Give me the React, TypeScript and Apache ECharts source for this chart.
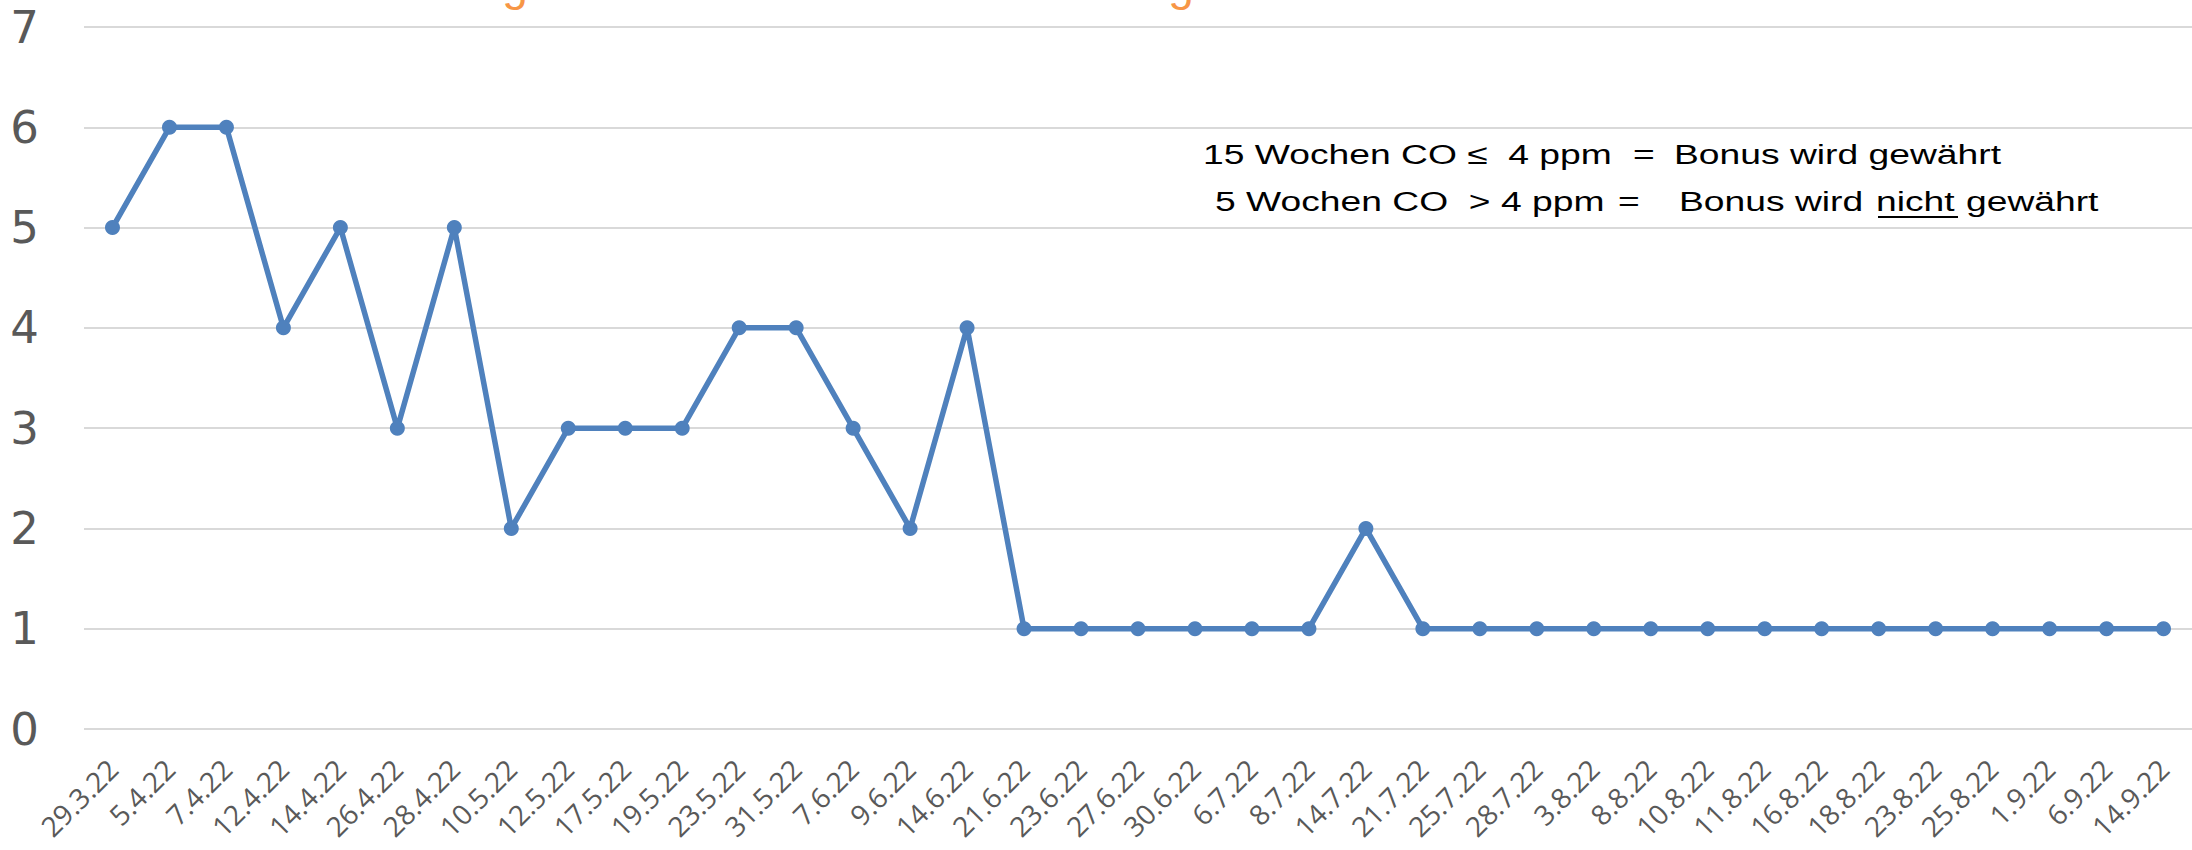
import React, { useEffect, useRef } from "react";
import * as echarts from "echarts";

const categories = [
  "29.3.22", "5.4.22", "7.4.22", "12.4.22", "14.4.22", "26.4.22", "28.4.22",
  "10.5.22", "12.5.22", "17.5.22", "19.5.22", "23.5.22", "31.5.22", "7.6.22",
  "9.6.22", "14.6.22", "21.6.22", "23.6.22", "27.6.22", "30.6.22", "6.7.22",
  "8.7.22", "14.7.22", "21.7.22", "25.7.22", "28.7.22", "3.8.22", "8.8.22",
  "10.8.22", "11.8.22", "16.8.22", "18.8.22", "23.8.22", "25.8.22", "1.9.22",
  "6.9.22", "14.9.22",
];

const coValues = [
  5, 6, 6, 4, 5, 3, 5, 2, 3, 3, 3, 4, 4, 3, 2, 4,
  1, 1, 1, 1, 1, 1, 2,
  1, 1, 1, 1, 1, 1, 1, 1, 1, 1, 1, 1, 1, 1,
];

const yMin = 0;
const yMax = 7;
const yInterval = 1;

const noteLine1Left = "15 Wochen CO \u2264  4 ppm";
const noteLine1Eq = "=";
const noteLine1Right = "Bonus wird gew\u00e4hrt";
const noteLine2Left = "5 Wochen CO  > 4 ppm";
const noteLine2Eq = "=";
const noteLine2A = "Bonus wird";
const noteLine2B = "nicht";
const noteLine2C = "gew\u00e4hrt";

// visible descenders of the cut-off title
const titleFragments = ["g", "g"];

export default function App() {
  const ref = useRef<HTMLDivElement>(null);

  useEffect(() => {
    if (!ref.current) return;
    const chart = echarts.init(ref.current, null, { renderer: "svg" });
    const noteFont = {
      fontFamily: "Liberation Sans, Arial, sans-serif",
      fontSize: 28,
      fill: "#000000",
      verticalAlign: "middle" as const,
    };
    const sx = 1.33;
    const titleFont = {
      fontFamily: "Liberation Sans, Arial, sans-serif",
      fontSize: 46,
      fill: "#f79646",
      align: "center" as const,
      verticalAlign: "middle" as const,
    };
    chart.setOption({
      animation: false,
      backgroundColor: "#ffffff",
      grid: { left: 84, right: 0, top: 27, bottom: 121, containLabel: false },
      xAxis: {
        type: "category",
        data: categories,
        boundaryGap: true,
        axisLine: { show: false },
        axisTick: { show: false },
        axisLabel: {
          interval: 0,
          rotate: 45,
          margin: 35,
          color: "#595959",
          fontSize: 28,
          fontFamily: "Open Sans, sans-serif",
        },
        splitLine: { show: false },
      },
      yAxis: {
        type: "value",
        min: yMin,
        max: yMax,
        interval: yInterval,
        axisLine: { show: false },
        axisTick: { show: false },
        axisLabel: {
          margin: 45,
          color: "#595959",
          fontSize: 45,
          fontFamily: "DejaVu Sans, sans-serif",
        },
        splitLine: { show: true, lineStyle: { color: "#d9d9d9", width: 2 } },
      },
      series: [
        {
          type: "line",
          data: coValues,
          symbol: "circle",
          symbolSize: 15,
          lineStyle: { color: "#4f81bd", width: 5.5 },
          itemStyle: { color: "#4f81bd" },
          z: 3,
        },
      ],
      graphic: [
        { type: "text", x: 515, y: -16, style: { ...titleFont, text: titleFragments[0] } },
        { type: "text", x: 1181, y: -16, style: { ...titleFont, text: titleFragments[1] } },
        { type: "text", x: 1203, y: 154, scaleX: sx, style: { ...noteFont, text: noteLine1Left } },
        { type: "text", x: 1633, y: 154, scaleX: sx, style: { ...noteFont, text: noteLine1Eq } },
        { type: "text", x: 1674, y: 154, scaleX: sx, style: { ...noteFont, text: noteLine1Right } },
        { type: "text", x: 1215, y: 201, scaleX: sx, style: { ...noteFont, text: noteLine2Left } },
        { type: "text", x: 1618, y: 201, scaleX: sx, style: { ...noteFont, text: noteLine2Eq } },
        { type: "text", x: 1679, y: 201, scaleX: sx, style: { ...noteFont, text: noteLine2A } },
        { type: "text", x: 1876, y: 201, scaleX: sx, style: { ...noteFont, text: noteLine2B } },
        { type: "text", x: 1966, y: 201, scaleX: sx, style: { ...noteFont, text: noteLine2C } },
        {
          type: "line",
          shape: { x1: 1878, y1: 217, x2: 1958, y2: 217 },
          style: { stroke: "#000000", lineWidth: 2 },
        },
      ],
    });
    return () => chart.dispose();
  }, []);

  return (
    <div
      ref={ref}
      style={{ position: "absolute", left: 0, top: 0, width: 2192, height: 850 }}
    />
  );
}
